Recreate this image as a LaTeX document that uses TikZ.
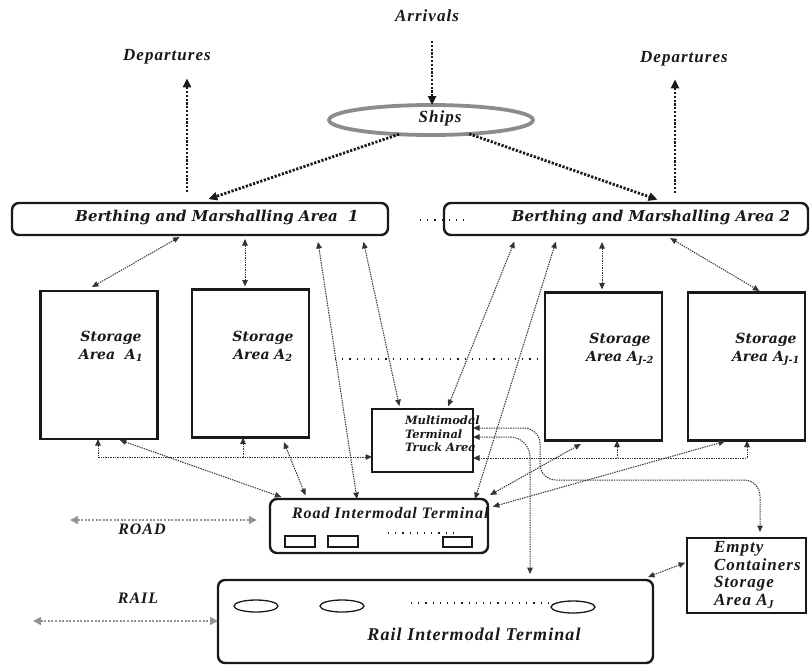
\documentclass[tikz,border=0pt]{standalone}
\usepackage{fontspec}
\usetikzlibrary{arrows.meta,shapes.geometric}
\newfontfamily\bkf{DejaVu Serif}
\newfontfamily\tmf[LetterSpace=6]{Liberation Serif}
\definecolor{ink}{gray}{0.1}
\definecolor{lnk}{gray}{0.2}
\definecolor{shipgray}{gray}{0.55}
\definecolor{mgray}{gray}{0.58}
\begin{document}
\begin{tikzpicture}[x=1pt,y=-1pt,
  every node/.style={inner sep=0pt,outer sep=0pt},
  sbox/.style={rectangle,draw=ink,line width=2.4pt,fill=white,minimum width=117pt,minimum height=148pt},
  rbox/.style={rectangle,rounded corners=7pt,draw=ink,line width=2.4pt,fill=white},
  conn/.style={draw=lnk,line width=1pt,dash pattern=on 1.4pt off 1pt,{Triangle[length=6.5pt,width=5.5pt]}-{Triangle[length=6.5pt,width=5.5pt]}},
  conn1/.style={draw=lnk,line width=1pt,dash pattern=on 1.4pt off 1pt,-{Triangle[length=6.5pt,width=5.5pt]}},
  heavy/.style={draw=ink,line width=2.8pt,dash pattern=on 2.2pt off 1.6pt,-{Triangle[length=9pt,width=8pt]}},
  outer/.style={draw=mgray,line width=1.5pt,dash pattern=on 2pt off 1.6pt,{Triangle[length=8pt,width=8pt]}-{Triangle[length=8pt,width=8pt]}},
  loose/.style={draw=ink,line width=1.1pt,dash pattern=on 1.2pt off 6pt},
  tlab/.style={font=\tmf\bfseries\itshape\fontsize{17pt}{20pt}\selectfont,text=ink},
  blab/.style={font=\bkf\bfseries\itshape\fontsize{15pt}{18pt}\selectfont,text=ink},
  slab/.style={font=\bkf\bfseries\itshape\fontsize{14pt}{18pt}\selectfont,text=ink,align=center}]
\useasboundingbox (0,0) rectangle (811,665);

% ---- top: arrivals, ships, departures
\node[tlab] (arr) at (427,16) {Arrivals};
\node[tlab] (depl) at (167,57) {Departures};
\node[tlab] (depr) at (684,59) {Departures};
\node[ellipse,draw=shipgray,line width=3.8pt,minimum width=204pt,minimum height=30pt] (ships) at (431,120) {};
\node[tlab] (shipstxt) at (440,118) {Ships};

% ---- berthing areas
\node[rbox,minimum width=376pt,minimum height=32pt] (bma1) at (200,219) {};
\node[blab] (bma1t) at (217,217) {Berthing and Marshalling Area\ \ 1};
\node[rbox,minimum width=364pt,minimum height=32pt] (bma2) at (626,219) {};
\node[blab] (bma2t) at (651,217) {Berthing and Marshalling Area 2};
\draw[loose] (420,220) -- (466,220);

% ---- storage areas
\node[sbox] (a1) at (99,365) {};
\node[slab] (a1t) at (111,346) {Storage\\Area\ \ A\textsubscript{1}};
\node[sbox] (a2) at (250.5,363.5) {};
\node[slab] (a2t) at (263,346) {Storage\\Area A\textsubscript{2}};
\node[sbox] (aj2) at (603.5,366.5) {};
\node[slab] (aj2t) at (620,349) {Storage\\Area A\textsubscript{J-2}};
\node[sbox] (aj1) at (746.5,366.5) {};
\node[slab] (aj1t) at (766,349) {Storage\\Area A\textsubscript{J-1}};
\draw[loose] ([xshift=26pt]a2.east |- 0,359) -- (aj2.west |- 0,359);

% ---- multimodal terminal truck area
\node[rectangle,draw=ink,line width=1.2pt,fill=white,minimum width=101pt,minimum height=63pt] (mtta) at (422.5,440.5) {};
\node[font=\bkf\bfseries\itshape\fontsize{11.5pt}{13.5pt}\selectfont,text=ink,align=left,anchor=west] (mttat) at (405,434) {Multimodal\\Terminal\\Truck Area};

% ---- road terminal
\node[rbox,minimum width=218pt,minimum height=54pt] (road) at (379,526) {};
\node[tlab,font=\tmf\bfseries\itshape\fontsize{16pt}{19pt}\selectfont,anchor=west] (roadt) at (292,513) {Road Intermodal Terminal};
\node[rectangle,draw=ink,line width=1.3pt,minimum width=30pt,minimum height=11pt] (tr1) at (300,541.5) {};
\node[rectangle,draw=ink,line width=1.3pt,minimum width=30pt,minimum height=11pt] (tr2) at (343,541.5) {};
\node[rectangle,draw=ink,line width=1.3pt,minimum width=29pt,minimum height=10pt] (tr3) at (457.5,542) {};
\draw[loose] (388,533) -- (456,533);

% ---- rail terminal
\node[rbox,minimum width=435pt,minimum height=83pt] (rail) at (435.5,621.5) {};
\node[tlab,font=\tmf\bfseries\itshape\fontsize{18pt}{21pt}\selectfont] (railt) at (474,634) {Rail Intermodal Terminal};
\node[ellipse,draw=ink,line width=1.3pt,minimum width=44pt,minimum height=12pt] (w1) at (256,606) {};
\node[ellipse,draw=ink,line width=1.3pt,minimum width=44pt,minimum height=12pt] (w2) at (342,606) {};
\node[ellipse,draw=ink,line width=1.3pt,minimum width=44pt,minimum height=12pt] (w3) at (573,607) {};
\draw[loose] (411,603) -- (548,603);

% ---- empty containers
\node[rectangle,draw=ink,line width=2.4pt,fill=white,minimum width=119pt,minimum height=75pt] (empty) at (746.5,575.5) {};
\node[tlab,align=left,anchor=west,font=\tmf\bfseries\itshape\fontsize{17pt}{17.5pt}\selectfont] (emptyt) at (714,575) {Empty\\Containers\\Storage\\Area A\textsubscript{J}};

% ---- ROAD / RAIL
\node[tlab,font=\tmf\bfseries\itshape\fontsize{16pt}{19pt}\selectfont] (roadlab) at (142,529) {ROAD};
\node[tlab,font=\tmf\bfseries\itshape\fontsize{16pt}{19pt}\selectfont] (raillab) at (138,598) {RAIL};
\coordinate (roadW) at (70,520);
\coordinate (railW) at (33,621);
\draw[outer,shorten >=13pt] (roadW) -- (road.west |- 0,520);
\draw[outer] (railW) -- (rail.west |- 0,621);

% ---- heavy dotted arrows
\draw[heavy,shorten <=19pt] (arr.south -| 432,0) -- (ships.north -| 432,0);
\draw[heavy,shorten <=11pt,shorten >=14pt] (bma1.north -| 187,0) -- (depl.south -| 187,0);
\draw[heavy,shorten <=10pt,shorten >=13pt] (bma2.north -| 675,0) -- (depr.south -| 675,0);
\draw[heavy,shorten >=12pt] (ships.204) -- (bma1.north -| 197,0);
\draw[heavy,shorten >=10pt] (ships.340) -- (bma2.north -| 667,0);

% ---- berthing connectors
\draw[conn,shorten <=4pt,shorten >=8pt] (bma1.south -| 183,0) -- (a1.north -| 85,0);
\draw[conn,shorten <=4pt,shorten >=3pt] (bma1.south -| 245,0) -- (a2.north -| 245,0);
\draw[conn,shorten <=7pt] (bma1.south -| 317,0) -- (road.north -| 357,0);
\draw[conn,shorten <=7pt,shorten >=3pt] (bma1.south -| 362,0) -- (mtta.north -| 400,0);
\draw[conn,shorten <=7pt,shorten >=3pt] (bma2.south -| 517,0) -- (mtta.north -| 447,0);
\draw[conn,shorten <=7pt] (bma2.south -| 558,0) -- (road.north -| 475,0);
\draw[conn,shorten <=7pt,shorten >=3pt] (bma2.south -| 602,0) -- (aj2.north -| 602,0);
\draw[conn,shorten <=6pt,shorten >=3pt] (bma2.south -| 665,0) -- (aj1.north -| 762,0);

% ---- collectors under storage
\coordinate (colL) at (243,457);
\coordinate (colR) at (617,458);
\draw[conn] (a1.south -| 98,0) |- (mtta.west |- 0,457);
\draw[conn1] (colL) -- (a2.south -| 243,0);
\draw[conn] (aj1.south -| 747,0) |- (mtta.east |- 0,458);
\draw[conn1] (colR) -- (aj2.south -| 617,0);

% ---- storage to road terminal
\draw[conn,shorten <=3pt,shorten >=6pt] (a1.south -| 117,0) -- (road.north -| 287,0);
\draw[conn,shorten <=5pt,shorten >=4pt] (a2.south -| 282,0) -- (road.north -| 307,0);
\draw[conn,shorten >=7pt] ([xshift=2pt,yshift=4pt]road.north east) -- (aj2.south -| 587,0);
\draw[conn,shorten <=5pt,shorten >=3pt] (road.east |- 0,508) -- (aj1.south -| 728,0);

% ---- truck area to empty containers and rail
\draw[conn,rounded corners=16pt,shorten >=6pt] (mtta.east |- 0,428) -- (540,428) -- (540,480) -- (760,480) -- (empty.north -| 760,0);
\draw[conn,rounded corners=20pt,shorten >=6pt] (mtta.east |- 0,437) -- (530,437) -- (rail.north -| 530,0);
\draw[conn,shorten <=2pt] (empty.west |- 0,562) -- ([xshift=-5pt,yshift=3pt]rail.north east);
\end{tikzpicture}
\end{document}
